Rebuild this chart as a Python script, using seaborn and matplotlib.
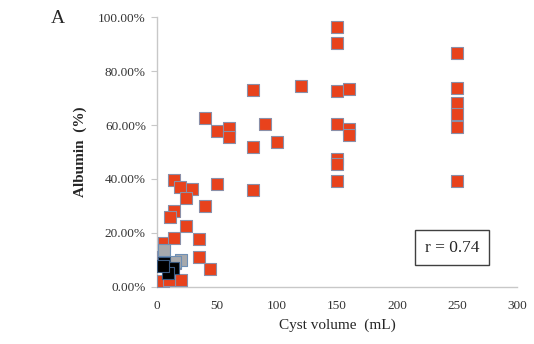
import matplotlib
matplotlib.use("Agg")
import matplotlib.pyplot as plt
import seaborn as sns
import pandas as pd
from matplotlib.ticker import FuncFormatter

# Data (cyst volume mL, albumin %)
red_x = [150, 150, 150, 150, 150, 150, 150, 160, 160, 160,
         250, 250, 250, 250, 250, 250,
         120, 80, 90, 100, 80, 80, 40, 50, 60, 60,
         14, 19, 29, 24, 50, 40, 14, 11, 24, 6, 14, 35, 35, 44,
         5, 5, 20, 10, 15]
red_y = [96.5, 90.6, 72.5, 60.4, 47.5, 45.5, 39.3, 73.5, 58.5, 56.3,
         86.9, 73.8, 68.3, 64.1, 59.2, 39.3,
         74.5, 73.0, 60.4, 53.6, 51.9, 35.9, 62.5, 57.8, 58.9, 55.7,
         39.6, 37.1, 36.3, 33.0, 38.1, 30.1, 28.0, 26.0, 22.5, 16.3, 18.1, 17.6, 11.1, 6.7,
         11.0, 2.2, 2.5, 2.3, 8.7]
gray_x = [6, 20, 15]
gray_y = [13.6, 9.9, 9.3]
black_x = [6, 13, 9, 5]
black_y = [8.9, 6.8, 5.0, 7.5]

x_ticks = [0, 50, 100, 150, 200, 250, 300]
y_ticks = [0, 20, 40, 60, 80, 100]

red = pd.DataFrame({"x": red_x, "y": red_y})
gray = pd.DataFrame({"x": gray_x, "y": gray_y})
black = pd.DataFrame({"x": black_x, "y": black_y})

sns.set_style("white")
plt.rcParams["font.family"] = ["Liberation Serif", "DejaVu Serif"]

fig = plt.figure(figsize=(5.34, 3.44), dpi=100)
ax = fig.add_axes([0.294, 0.1666, 0.674, 0.7831])

kw = dict(marker="s", s=72, linewidth=0.8, ax=ax, zorder=3)
sns.scatterplot(data=red, x="x", y="y", color="#E8421C", edgecolor="#8A8FA8", **kw)
sns.scatterplot(data=gray, x="x", y="y", color="#A7A9AC", edgecolor="#6E8FB5", **kw)
sns.scatterplot(data=black, x="x", y="y", color="#000000", edgecolor="#3A5A80", **kw)

ax.set_xlim(0, 300)
ax.set_ylim(0, 100)
ax.set_xticks(x_ticks)
ax.set_yticks(y_ticks)
ax.yaxis.set_major_formatter(FuncFormatter(lambda v, p: f"{v:.2f}%"))
for s in ["top", "right"]:
    ax.spines[s].set_visible(False)
for s in ["left", "bottom"]:
    ax.spines[s].set_color("#C8C8C8")
    ax.spines[s].set_linewidth(1.0)
ax.tick_params(axis="y", left=True, length=4, color="#C8C8C8", labelsize=9.5,
               labelcolor="#333333", pad=4)
ax.tick_params(axis="x", bottom=False, labelsize=9.5, labelcolor="#333333", pad=6)

ax.set_xlabel("Cyst volume  (mL)", fontsize=11, color="#262626", labelpad=5)
ax.set_ylabel("Albumin  (%)", fontsize=11, color="#262626", fontweight="bold", labelpad=8)

fig.text(0.108, 0.945, "A", fontsize=14, ha="center", va="center")
ax.text(0.82, 0.145, "r = 0.74", transform=ax.transAxes, fontsize=12.5,
        ha="center", va="center",
        bbox=dict(boxstyle="square,pad=0.55", facecolor="white", edgecolor="#404040", linewidth=1.0))

fig.savefig("out.png", dpi=100)
